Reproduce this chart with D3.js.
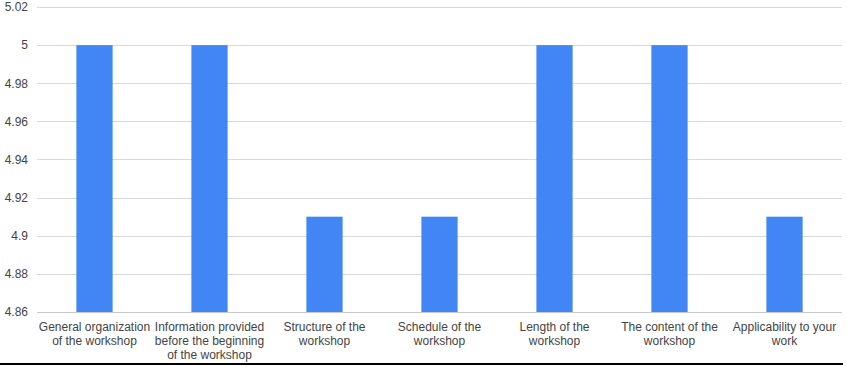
<!DOCTYPE html>
<html><head><meta charset="utf-8">
<script src="https://cdn.jsdelivr.net/npm/d3@7"></script>
<style>body{margin:0;background:#fff;}svg{display:block;font-family:"Liberation Sans",Arial,sans-serif;}</style>
</head><body>
<svg id="c" width="847" height="366"></svg>
<script>
const categories = [
  ["General organization","of the workshop"],
  ["Information provided","before the beginning","of the workshop"],
  ["Structure of the","workshop"],
  ["Schedule of the","workshop"],
  ["Length of the","workshop"],
  ["The content of the","workshop"],
  ["Applicability to your","work"]
];
const values = [5, 5, 4.91, 4.91, 5, 5, 4.91];
const yTicks = [4.86, 4.88, 4.9, 4.92, 4.94, 4.96, 4.98, 5, 5.02];
const yTickLabels = ["4.86","4.88","4.9","4.92","4.94","4.96","4.98","5","5.02"];

(function(){
const svg = d3.select("#c");
const pL = 37, pR = 842, pT = 7, pB = 312;
const x = d3.scaleBand().domain(d3.range(categories.length)).range([pL, pR]).paddingInner(0.685).paddingOuter(0.3425);
const y = d3.scaleLinear().domain([4.86, 5.02]).range([pB, pT]);

// grid
svg.append("g").selectAll("line").data(yTicks).join("line")
  .attr("x1", pL).attr("x2", pR)
  .attr("y1", d => Math.round(y(d)) + 0.5).attr("y2", d => Math.round(y(d)) + 0.5)
  .attr("stroke", (d,i) => i === 0 ? "#c8c8c8" : "#d9d9d9").attr("stroke-width", 1);

// y labels
const yAxis = d3.axisLeft(y).tickValues(yTicks).tickFormat((d,i) => yTickLabels[i]).tickSize(0).tickPadding(0);
const ga = svg.append("g").attr("transform", `translate(${pL - 9},0)`).call(yAxis);
ga.select(".domain").remove();
ga.selectAll("text").attr("fill", "#444").style("font-size", "12px").style("font-family", "Liberation Sans, Arial, sans-serif");

// bars
svg.append("g").selectAll("rect").data(values).join("rect")
  .attr("x", (d,i) => x(i)).attr("width", x.bandwidth())
  .attr("y", d => y(d)).attr("height", d => y(4.86) - y(d))
  .attr("fill", "#4285f4");

// x labels
const xl = svg.append("g");
categories.forEach((lines, i) => {
  const cx = x(i) + x.bandwidth()/2;
  const t = xl.append("text").attr("text-anchor", "middle").attr("fill", "#444").style("font-size", "12px")
    .attr("x", cx).attr("y", 331);
  lines.forEach((ln, j) => t.append("tspan").attr("x", cx).attr("dy", j === 0 ? 0 : 14).text(ln));
});

// bottom border line
svg.append("line").attr("x1", 0).attr("x2", 843).attr("y1", 364).attr("y2", 364).attr("stroke", "#000").attr("stroke-width", 2);
})();
</script>
</body></html>
